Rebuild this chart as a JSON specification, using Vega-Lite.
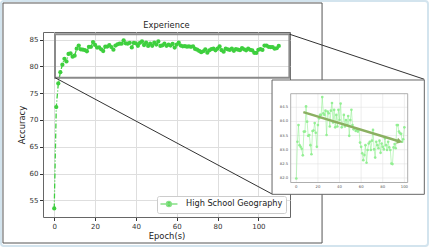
{
"$schema":"https://vega.github.io/schema/vega-lite/v6.json",
"width":247,"height":185,
"autosize":{"type":"none"},
"padding":{"left":43,"top":32,"right":139,"bottom":30},
"background":"white",
"config":{"font":"DejaVu Sans","view":{"stroke":"#666","strokeWidth":1}},
"title":{"text":"Experience","fontSize":8.3,"fontWeight":"normal","color":"#222","offset":-29.5,"anchor":"middle"},
"datasets":{
"main":[{"epoch":0,"acc":53.5},{"epoch":1,"acc":72.4},{"epoch":2,"acc":76.8},{"epoch":3,"acc":78.9},{"epoch":4,"acc":80.3},{"epoch":5,"acc":81.4},{"epoch":6,"acc":80.9},{"epoch":7,"acc":82.3},{"epoch":8,"acc":82.4},{"epoch":9,"acc":81.8},
{"epoch":10,"acc":81.98},{"epoch":11,"acc":83.28},{"epoch":12,"acc":83.87},{"epoch":13,"acc":83.16},{"epoch":14,"acc":83.10},{"epoch":15,"acc":83.03},{"epoch":16,"acc":82.80},{"epoch":17,"acc":83.64},{"epoch":18,"acc":83.64},{"epoch":19,"acc":84.53},
{"epoch":20,"acc":83.99},{"epoch":21,"acc":83.49},{"epoch":22,"acc":83.52},{"epoch":23,"acc":83.16},{"epoch":24,"acc":82.84},{"epoch":25,"acc":83.66},{"epoch":26,"acc":83.68},{"epoch":27,"acc":83.94},{"epoch":28,"acc":83.60},{"epoch":29,"acc":83.10},
{"epoch":30,"acc":83.87},{"epoch":31,"acc":84.11},{"epoch":32,"acc":84.23},{"epoch":33,"acc":84.23},{"epoch":34,"acc":84.86},{"epoch":35,"acc":84.29},{"epoch":36,"acc":84.23},{"epoch":37,"acc":84.38},{"epoch":38,"acc":83.52},{"epoch":39,"acc":84.35},
{"epoch":40,"acc":84.29},{"epoch":41,"acc":83.82},{"epoch":42,"acc":84.38},{"epoch":43,"acc":84.65},{"epoch":44,"acc":83.96},{"epoch":45,"acc":84.41},{"epoch":46,"acc":83.79},{"epoch":47,"acc":84.23},{"epoch":48,"acc":83.82},{"epoch":49,"acc":84.41},
{"epoch":50,"acc":84.05},{"epoch":51,"acc":84.63},{"epoch":52,"acc":83.79},{"epoch":53,"acc":83.91},{"epoch":54,"acc":84.23},{"epoch":55,"acc":83.82},{"epoch":56,"acc":84.05},{"epoch":57,"acc":83.87},{"epoch":58,"acc":84.19},{"epoch":59,"acc":83.49},
{"epoch":60,"acc":84.05},{"epoch":61,"acc":84.41},{"epoch":62,"acc":83.87},{"epoch":63,"acc":83.72},{"epoch":64,"acc":83.76},{"epoch":65,"acc":83.66},{"epoch":66,"acc":83.70},{"epoch":67,"acc":83.64},{"epoch":68,"acc":83.72},{"epoch":69,"acc":83.25},
{"epoch":70,"acc":83.10},{"epoch":71,"acc":82.87},{"epoch":72,"acc":82.63},{"epoch":73,"acc":82.81},{"epoch":74,"acc":83.16},{"epoch":75,"acc":82.54},{"epoch":76,"acc":82.99},{"epoch":77,"acc":83.22},{"epoch":78,"acc":83.28},{"epoch":79,"acc":82.99},
{"epoch":80,"acc":83.32},{"epoch":81,"acc":83.70},{"epoch":82,"acc":83.01},{"epoch":83,"acc":82.72},{"epoch":84,"acc":83.28},{"epoch":85,"acc":83.16},{"epoch":86,"acc":83.05},{"epoch":87,"acc":83.32},{"epoch":88,"acc":82.89},{"epoch":89,"acc":83.22},
{"epoch":90,"acc":83.10},{"epoch":91,"acc":83.01},{"epoch":92,"acc":83.40},{"epoch":93,"acc":83.16},{"epoch":94,"acc":82.99},{"epoch":95,"acc":83.28},{"epoch":96,"acc":83.08},{"epoch":97,"acc":82.99},{"epoch":98,"acc":82.51},{"epoch":99,"acc":82.49},
{"epoch":100,"acc":83.08},{"epoch":101,"acc":83.20},{"epoch":102,"acc":83.05},{"epoch":103,"acc":83.87},{"epoch":104,"acc":83.87},{"epoch":105,"acc":83.64},{"epoch":106,"acc":83.58},{"epoch":107,"acc":83.56},{"epoch":108,"acc":83.28},{"epoch":109,"acc":83.37},{"epoch":110,"acc":83.79}],
"inset":[{"i":0,"v":81.98},{"i":1,"v":83.28},{"i":2,"v":83.87},{"i":3,"v":83.16},{"i":4,"v":83.10},{"i":5,"v":83.03},{"i":6,"v":82.80},{"i":7,"v":83.64},{"i":8,"v":83.64},{"i":9,"v":84.53},
{"i":10,"v":83.99},{"i":11,"v":83.49},{"i":12,"v":83.52},{"i":13,"v":83.16},{"i":14,"v":82.84},{"i":15,"v":83.66},{"i":16,"v":83.68},{"i":17,"v":83.94},{"i":18,"v":83.60},{"i":19,"v":83.10},
{"i":20,"v":83.87},{"i":21,"v":84.11},{"i":22,"v":84.23},{"i":23,"v":84.23},{"i":24,"v":84.86},{"i":25,"v":84.29},{"i":26,"v":84.23},{"i":27,"v":84.38},{"i":28,"v":83.52},{"i":29,"v":84.35},
{"i":30,"v":84.29},{"i":31,"v":83.82},{"i":32,"v":84.38},{"i":33,"v":84.65},{"i":34,"v":83.96},{"i":35,"v":84.41},{"i":36,"v":83.79},{"i":37,"v":84.23},{"i":38,"v":83.82},{"i":39,"v":84.41},
{"i":40,"v":84.05},{"i":41,"v":84.63},{"i":42,"v":83.79},{"i":43,"v":83.91},{"i":44,"v":84.23},{"i":45,"v":83.82},{"i":46,"v":84.05},{"i":47,"v":83.87},{"i":48,"v":84.19},{"i":49,"v":83.49},
{"i":50,"v":84.05},{"i":51,"v":84.41},{"i":52,"v":83.87},{"i":53,"v":83.72},{"i":54,"v":83.76},{"i":55,"v":83.66},{"i":56,"v":83.70},{"i":57,"v":83.64},{"i":58,"v":83.72},{"i":59,"v":83.25},
{"i":60,"v":83.10},{"i":61,"v":82.87},{"i":62,"v":82.63},{"i":63,"v":82.81},{"i":64,"v":83.16},{"i":65,"v":82.54},{"i":66,"v":82.99},{"i":67,"v":83.22},{"i":68,"v":83.28},{"i":69,"v":82.99},
{"i":70,"v":83.32},{"i":71,"v":83.70},{"i":72,"v":83.01},{"i":73,"v":82.72},{"i":74,"v":83.28},{"i":75,"v":83.16},{"i":76,"v":83.05},{"i":77,"v":83.32},{"i":78,"v":82.89},{"i":79,"v":83.22},
{"i":80,"v":83.10},{"i":81,"v":83.01},{"i":82,"v":83.40},{"i":83,"v":83.16},{"i":84,"v":82.99},{"i":85,"v":83.28},{"i":86,"v":83.08},{"i":87,"v":82.99},{"i":88,"v":82.51},{"i":89,"v":82.49},
{"i":90,"v":83.08},{"i":91,"v":83.20},{"i":92,"v":83.05},{"i":93,"v":83.87},{"i":94,"v":83.87},{"i":95,"v":83.64},{"i":96,"v":83.58},{"i":97,"v":83.56},{"i":98,"v":83.28},{"i":99,"v":83.37},{"i":100,"v":83.79}],
"xticks":[{"t":0},{"t":20},{"t":40},{"t":60},{"t":80},{"t":100}],
"yticks":[{"t":82.0},{"t":82.5},{"t":83.0},{"t":83.5},{"t":84.0},{"t":84.5}],
"series":[{"series":"High School Geography","epoch":0,"acc":53.5}],
"one":[{}]
},
"layer":[
{"layer":[
 {"data":{"name":"one"},"mark":{"type":"rect","fill":null,"stroke":"#d3e4ee","strokeWidth":2,"cornerRadius":3},
  "encoding":{"x":{"datum":-26.08,"type":"quantitative","scale":{"domain":[-5.5,115.5],"nice":false,"zero":false}},"x2":{"datum":183.1},
   "y":{"datum":92.18,"type":"quantitative","scale":{"domain":[51.9,86.4],"nice":false,"zero":false}},"y2":{"datum":46.49}}},
 {"data":{"name":"one"},"mark":{"type":"rect","fill":null,"stroke":"#555","strokeWidth":1},
  "encoding":{"x":{"datum":-25.1,"type":"quantitative"},"x2":{"datum":131.2},
   "y":{"datum":91.81,"type":"quantitative"},"y2":{"datum":47.05}}},
 {"data":{"name":"main"},"mark":{"type":"line","color":"#3ecf3e","strokeWidth":1.3,"strokeDash":[5,2,1,2]},
  "encoding":{"x":{"field":"epoch","type":"quantitative","scale":{"domain":[-5.5,115.5],"nice":false,"zero":false},
     "axis":{"values":[0,20,40,60,80,100],"title":"Epoch(s)","grid":true,"gridColor":"#dedede","domain":false,"tickColor":"#333","tickSize":3.5,"labelFontSize":7,"labelColor":"#333","labelPadding":1.5,"titleFontSize":8.4,"titleFontWeight":"normal","titleColor":"#222","titlePadding":2}},
   "y":{"field":"acc","type":"quantitative","scale":{"domain":[51.9,86.4],"nice":false,"zero":false},
     "axis":{"values":[55,60,65,70,75,80,85],"tickCount":7,"labelOverlap":false,"title":"Accuracy","grid":true,"gridColor":"#dedede","domain":false,"tickColor":"#333","tickSize":3.5,"labelFontSize":7,"labelColor":"#333","labelPadding":1.5,"titleFontSize":8.4,"titleFontWeight":"normal","titleColor":"#222","titlePadding":3}}}},
 {"data":{"name":"main"},"transform":[{"lookup":"epoch","from":{"data":{"name":"series"},"key":"epoch","fields":["series"]},"default":"High School Geography"}],
  "mark":{"type":"point","filled":true,"opacity":1,"size":18},
  "encoding":{"x":{"field":"epoch","type":"quantitative"},
   "y":{"field":"acc","type":"quantitative","axis":{"values":[55,60,65,70,75,80,85],"tickCount":7,"labelOverlap":false}},
   "color":{"field":"series","type":"nominal","scale":{"domain":["High School Geography"],"range":["#3ecf3e"]},
    "legend":{"orient":"bottom-right","offset":4,"title":null,"labelFontSize":8.2,"labelColor":"#222","symbolType":"M-1.07,0L2.94,0M1.5,0A0.57,0.57,0,1,1,0.36,0A0.57,0.57,0,1,1,1.5,0Z","symbolSize":72,"symbolStrokeColor":"#86e086","symbolStrokeWidth":1.5,"symbolFillColor":"#3ecf3e","labelOffset":16,"padding":3,"strokeColor":"#cccccc","fillColor":"white","cornerRadius":2,
     "encode":{"symbols":{"update":{"stroke":{"value":"#86e086"},"strokeWidth":{"value":1.5},"fill":{"value":"#3ecf3e"},"opacity":{"value":1}}}}}}}},
 {"data":{"name":"one"},"mark":{"type":"rect","fill":null,"stroke":"#8a8a8a","strokeWidth":2},
  "encoding":{"x":{"datum":0.38,"type":"quantitative"},"x2":{"datum":115.2},"y":{"datum":77.88,"type":"quantitative"},"y2":{"datum":86.0}}},
 {"data":{"name":"one"},"mark":{"type":"rule","color":"#333","strokeWidth":1},
  "encoding":{"x":{"datum":0.38,"type":"quantitative"},"y":{"datum":77.88,"type":"quantitative"},"x2":{"datum":106.7},"y2":{"datum":56.19}}},
 {"data":{"name":"one"},"mark":{"type":"rule","color":"#333","strokeWidth":1},
  "encoding":{"x":{"datum":115.2,"type":"quantitative"},"y":{"datum":86.0,"type":"quantitative"},"x2":{"datum":181.3},"y2":{"datum":77.58}}},
 {"data":{"name":"one"},"mark":{"type":"rect","fill":"white","stroke":"#666","strokeWidth":1},
  "encoding":{"x":{"datum":106.7,"type":"quantitative"},"x2":{"datum":181.3},"y":{"datum":77.45,"type":"quantitative"},"y2":{"datum":56.13}}}
]},
{"layer":[
 {"data":{"name":"xticks"},"mark":{"type":"rule","color":"#e3e3e3","strokeWidth":0.6},
  "encoding":{"x":{"field":"t","type":"quantitative","axis":null,"scale":{"domain":[-5.2,103.1],"range":[247.7,364.7],"nice":false,"zero":false}},
   "y":{"datum":81.84,"type":"quantitative","axis":null,"scale":{"domain":[81.84,84.98],"range":[150.5,61.7],"nice":false,"zero":false}},"y2":{"datum":84.98}}},
 {"data":{"name":"yticks"},"mark":{"type":"rule","color":"#e3e3e3","strokeWidth":0.6},
  "encoding":{"y":{"field":"t","type":"quantitative","axis":null},"x":{"datum":-5.2,"type":"quantitative","axis":null},"x2":{"datum":103.1}}},
 {"data":{"name":"one"},"mark":{"type":"rect","fill":null,"stroke":"#999","strokeWidth":0.8},
  "encoding":{"x":{"datum":-5.2,"type":"quantitative","axis":null},"x2":{"datum":103.1},"y":{"datum":81.84,"type":"quantitative","axis":null},"y2":{"datum":84.98}}},
 {"data":{"name":"inset"},"mark":{"type":"line","color":"#90ee90","strokeWidth":0.7,"opacity":0.8},
  "encoding":{"x":{"field":"i","type":"quantitative","axis":null},"y":{"field":"v","type":"quantitative","axis":null}}},
 {"data":{"name":"inset"},"mark":{"type":"point","filled":true,"color":"#90ee90","opacity":0.95,"size":7},
  "encoding":{"x":{"field":"i","type":"quantitative","axis":null},"y":{"field":"v","type":"quantitative","axis":null}}},
 {"data":{"name":"one"},"mark":{"type":"rule","color":"#8bb061","strokeWidth":2.5},
  "encoding":{"x":{"datum":6.5,"type":"quantitative","axis":null},"y":{"datum":84.33,"type":"quantitative","axis":null},"x2":{"datum":95.7},"y2":{"datum":83.29}}},
 {"data":{"name":"one"},"mark":{"type":"point","shape":"triangle-right","filled":true,"color":"#8bb061","opacity":1,"size":40,"angle":17},
  "encoding":{"x":{"datum":95.7,"type":"quantitative","axis":null},"y":{"datum":83.29,"type":"quantitative","axis":null}}},
 {"data":{"name":"xticks"},"mark":{"type":"text","fontSize":3.8,"color":"#555","dy":4.5,"baseline":"middle"},
  "encoding":{"x":{"field":"t","type":"quantitative","axis":null},"y":{"datum":81.84,"type":"quantitative","axis":null},"text":{"field":"t","type":"quantitative","format":"d"}}},
 {"data":{"name":"yticks"},"mark":{"type":"text","fontSize":3.8,"color":"#555","dx":-2.5,"align":"right","baseline":"middle"},
  "encoding":{"x":{"datum":-5.2,"type":"quantitative","axis":null},"y":{"field":"t","type":"quantitative","axis":null},"text":{"field":"t","type":"quantitative","format":".1f"}}}
]}
],
"resolve":{"scale":{"x":"independent","y":"independent"},"axis":{"x":"independent","y":"independent"}}
}
